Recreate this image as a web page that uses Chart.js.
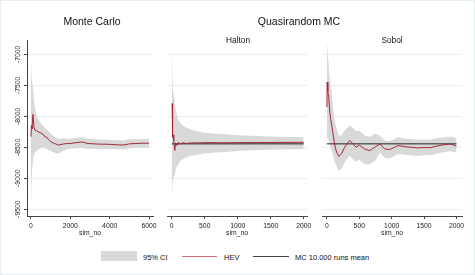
<!DOCTYPE html>
<html>
<head>
<meta charset="utf-8">
<script src="https://cdn.jsdelivr.net/npm/chart.js@4.4.1/dist/chart.umd.min.js"></script>
<style>
  body { margin: 0; background: #fff; }
  #wrap { position: relative; width: 475px; height: 275px; background: #fff; font-family: "Liberation Sans", Arial, sans-serif; color: #111; }
  #frame { position: absolute; left: 0; top: 0; width: 473px; height: 273px; border: 1px solid #e8eef0; }
  canvas { position: absolute; top: 0; }
  .t { position: absolute; white-space: nowrap; transform: translate(-50%, -50%); }
  .big { font-size: 10.5px; }
  .sub { font-size: 8.3px; }
  .leg { position: absolute; font-size: 7.5px; white-space: nowrap; transform: translateY(-50%); }
  .sw { position: absolute; }
</style>
</head>
<body>
<div id="wrap">
  <div id="frame"></div>
  <canvas id="mc" width="160" height="240" style="left:0px"></canvas>
  <canvas id="halton" width="155" height="240" style="left:160px"></canvas>
  <canvas id="sobol" width="160" height="240" style="left:315px"></canvas>

  <div class="t big" style="left:92px; top:21px">Monte Carlo</div>
  <div class="t big" style="left:299px; top:21px">Quasirandom MC</div>
  <div class="t sub" style="left:238px; top:40px">Halton</div>
  <div class="t sub" style="left:392px; top:40px">Sobol</div>

  <div class="sw" style="left:101px; top:251px; width:36px; height:10px; background:#d9d9d9"></div>
  <div class="leg" style="left:143px; top:257px">95% CI</div>
  <div class="sw" style="left:182px; top:256px; width:35px; height:1px; background:#d46a72"></div>
  <div class="leg" style="left:224px; top:257px">HEV</div>
  <div class="sw" style="left:253px; top:256px; width:36px; height:1px; background:#444"></div>
  <div class="leg" style="left:295px; top:257px">MC 10.000 runs mean</div>
</div>

<script>
// mean of the 10.000 run Monte Carlo reference
const mcMean = -8445;

// Monte Carlo
const mcSim = [0, 20, 50, 100, 150, 200, 300, 400, 500, 600, 700, 800, 900, 1000, 1200, 1400, 1600, 1800, 2000, 2300, 2600, 2900, 3200, 3500, 3800, 4100, 4400, 4700, 5000, 5300, 5600, 6000];
const mcHev = [-8330, -8150, -8200, -7970, -8170, -8220, -8240, -8256, -8270, -8284, -8330, -8337, -8380, -8410, -8440, -8465, -8450, -8440, -8440, -8425, -8415, -8440, -8445, -8450, -8450, -8455, -8460, -8465, -8445, -8440, -8435, -8435];
const mcUpper = [-7090, -7300, -7450, -7530, -7750, -7880, -8010, -8070, -8110, -8150, -8190, -8210, -8250, -8280, -8330, -8365, -8355, -8360, -8362, -8350, -8337, -8360, -8370, -8375, -8378, -8382, -8385, -8390, -8372, -8370, -8366, -8366];
const mcLower = [-9555, -9100, -8900, -8700, -8620, -8580, -8555, -8530, -8510, -8500, -8520, -8525, -8550, -8560, -8590, -8600, -8565, -8535, -8526, -8515, -8510, -8530, -8530, -8530, -8528, -8530, -8532, -8535, -8516, -8508, -8502, -8502];

// Halton
const haltonSim = [0, 5, 10, 15, 20, 30, 45, 60, 80, 100, 130, 170, 220, 300, 400, 500, 600, 750, 1000, 1300, 1600, 2000];
const haltonHev = [-7800, -7796, -7900, -8337, -8300, -8391, -8554, -8430, -8472, -8420, -8450, -8425, -8440, -8428, -8430, -8425, -8425, -8428, -8425, -8424, -8422, -8420];
const haltonUpper = [-6974, -6980, -7300, -7500, -7600, -7650, -7750, -7900, -8000, -8060, -8110, -8148, -8185, -8218, -8245, -8265, -8275, -8285, -8305, -8320, -8330, -8338];
const haltonLower = [-9230, -9230, -9100, -9050, -9000, -8990, -8940, -8860, -8800, -8770, -8720, -8690, -8660, -8635, -8615, -8600, -8590, -8580, -8560, -8545, -8535, -8527];

// Sobol
const sobolSim = [0, 5, 15, 30, 45, 60, 75, 100, 125, 150, 185, 225, 275, 350, 400, 450, 500, 580, 660, 740, 820, 890, 970, 1100, 1200, 1300, 1400, 1500, 1600, 1700, 1800, 1900, 1950, 2000];
const sobolHev = [-7850, -7450, -7600, -7700, -7930, -8050, -8150, -8320, -8480, -8580, -8646, -8608, -8500, -8390, -8440, -8500, -8465, -8527, -8554, -8500, -8446, -8527, -8537, -8473, -8490, -8500, -8510, -8505, -8505, -8480, -8460, -8446, -8460, -8484];
const sobolUpper = [-6800, -6850, -7000, -7200, -7400, -7500, -7650, -7900, -8100, -8200, -8310, -8310, -8230, -8150, -8180, -8240, -8230, -8310, -8330, -8280, -8310, -8390, -8400, -8340, -8360, -8370, -8380, -8375, -8375, -8355, -8340, -8330, -8340, -8364];
const sobolLower = [-8690, -8300, -8350, -8400, -8450, -8500, -8560, -8640, -8750, -8800, -8878, -8850, -8745, -8635, -8690, -8740, -8700, -8770, -8780, -8720, -8590, -8670, -8680, -8610, -8620, -8630, -8640, -8630, -8625, -8600, -8580, -8565, -8575, -8590];

// axis ticks
const yTicks = [-9500, -9000, -8500, -8000, -7500, -7000];
const mcXTicks = [0, 2000, 4000, 6000];
const qXTicks = [0, 500, 1000, 1500, 2000];

const pts = (xs, ys) => xs.map((x, i) => ({ x: x, y: ys[i] }));
const tickFont = { family: "'Liberation Sans', Arial, sans-serif", size: 6.8 };

function makePanel(id, sim, hev, upper, lower, xTicks, xMin, xMax, showMean, firstPanel, pad) {
  const datasets = [
    { data: pts(sim, hev), borderColor: "#a3283a", borderWidth: 1, pointRadius: 0, fill: false },
  ];
  if (showMean) {
    datasets.push({ data: pts([0, 2000], [mcMean, mcMean]), borderColor: "#222", borderWidth: 1, pointRadius: 0, fill: false });
  }
  datasets.push({ data: pts(sim, upper), borderWidth: 0, pointRadius: 0, backgroundColor: "#d9d9d9", fill: "+1" });
  datasets.push({ data: pts(sim, lower), borderWidth: 0, pointRadius: 0, fill: false });

  return new Chart(document.getElementById(id), {
    type: "line",
    data: { datasets: datasets },
    options: {
      responsive: false,
      animation: false,
      devicePixelRatio: 1,
      layout: { padding: pad },
      plugins: { legend: { display: false }, tooltip: { enabled: false } },
      scales: {
        x: {
          type: "linear",
          min: xMin,
          max: xMax,
          afterBuildTicks: (s) => { s.ticks = xTicks.map((v) => ({ value: v })); },
          afterFit: (s) => { s.height = 24; },
          grid: { drawOnChartArea: false, drawTicks: true, tickLength: 3, tickColor: "#444" },
          border: { display: true, color: "#444", width: 1 },
          ticks: { font: tickFont, color: "#222", padding: 3, maxRotation: 0, autoSkip: false, callback: (v) => String(v) },
          title: { display: true, text: "sim_no", font: tickFont, color: "#222", padding: { top: 0, bottom: 3 } },
        },
        y: {
          min: -9610,
          max: -6768,
          afterBuildTicks: (s) => { s.ticks = yTicks.map((v) => ({ value: v })); },
          afterFit: (s) => { s.width = firstPanel ? 27 : 0; },
          grid: { color: "#e6eff1", lineWidth: 1, drawTicks: firstPanel, tickLength: 3, tickColor: "#444" },
          border: { display: firstPanel, color: "#444", width: 1 },
          ticks: {
            display: firstPanel,
            font: tickFont,
            color: "#222",
            minRotation: 90,
            maxRotation: 90,
            crossAlign: "center",
            padding: -2.5,
            callback: (v) => String(v),
          },
        },
      },
    },
  });
}

makePanel("mc", mcSim, mcHev, mcUpper, mcLower, mcXTicks, -203, 6203, false, true, { left: 0, right: 7, top: 40, bottom: 0 });
makePanel("halton", haltonSim, haltonHev, haltonUpper, haltonLower, qXTicks, -72, 2050, true, false, { left: 7, right: 8, top: 40, bottom: 0 });
makePanel("sobol", sobolSim, sobolHev, sobolUpper, sobolLower, qXTicks, -75, 2085, true, false, { left: 7, right: 13, top: 40, bottom: 0 });
</script>
</body>
</html>
